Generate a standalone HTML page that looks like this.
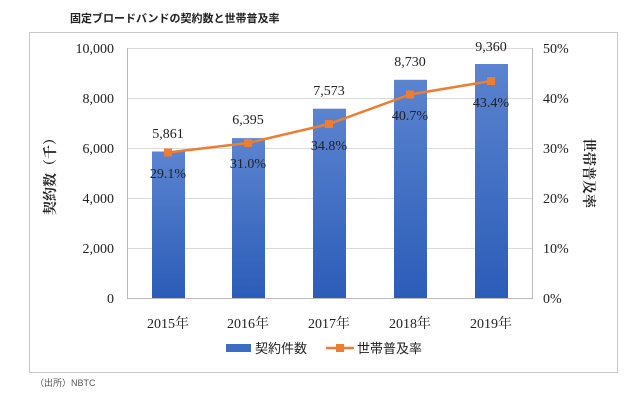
<!DOCTYPE html>
<html><head><meta charset="utf-8"><style>
body{margin:0;background:#fff;width:640px;height:403px;overflow:hidden}
</style></head><body>
<svg width="640" height="403" xmlns="http://www.w3.org/2000/svg" font-family="'Liberation Serif','Noto Serif CJK SC',serif">
<defs><linearGradient id="g" x1="0" y1="0" x2="0" y2="1"><stop offset="0" stop-color="#5b84d0"/><stop offset="1" stop-color="#2b5cb8"/></linearGradient></defs>
<text x="70" y="22" font-size="11" font-weight="bold" font-family="'Liberation Sans','Noto Sans CJK JP',sans-serif" fill="#222">固定ブロードバンドの契約数と世帯普及率</text>
<rect x="29.5" y="32.5" width="588" height="340" fill="#fff" stroke="#c8c8c8"/>
<g stroke="#d9d9d9" stroke-width="1">
<line x1="127" x2="533" y1="48.5" y2="48.5"/><line x1="127" x2="533" y1="98.5" y2="98.5"/><line x1="127" x2="533" y1="148.5" y2="148.5"/><line x1="127" x2="533" y1="198.5" y2="198.5"/><line x1="127" x2="533" y1="248.5" y2="248.5"/>
</g>
<line x1="127.5" x2="127.5" y1="48" y2="298" stroke="#bbb"/>
<line x1="532.5" x2="532.5" y1="48" y2="298" stroke="#bbb"/>
<line x1="127" x2="533" y1="298.5" y2="298.5" stroke="#bbb"/>
<g fill="url(#g)">
<rect x="152" y="151.5" width="33" height="146.5"/>
<rect x="232" y="138.1" width="33" height="159.9"/>
<rect x="313" y="108.7" width="33" height="189.3"/>
<rect x="394" y="79.8" width="33" height="218.2"/>
<rect x="475" y="64" width="33" height="234"/>
</g>
<g font-size="14" fill="#222" text-anchor="end">
<text x="114" y="53">10,000</text><text x="114" y="103">8,000</text><text x="114" y="153">6,000</text><text x="114" y="203">4,000</text><text x="114" y="253">2,000</text><text x="114" y="303">0</text>
</g>
<g font-size="14" fill="#222">
<text x="543" y="53">50%</text><text x="543" y="103">40%</text><text x="543" y="153">30%</text><text x="543" y="203">20%</text><text x="543" y="253">10%</text><text x="543" y="303">0%</text>
</g>
<g font-size="14" fill="#222" text-anchor="middle">
<text x="168" y="328">2015年</text><text x="248" y="328">2016年</text><text x="329" y="328">2017年</text><text x="410" y="328">2018年</text><text x="491" y="328">2019年</text>
<text x="168" y="138">5,861</text><text x="248" y="124">6,395</text><text x="329" y="95">7,573</text><text x="410" y="66">8,730</text><text x="491" y="51">9,360</text>
<text x="168" y="178">29.1%</text><text x="248" y="168">31.0%</text><text x="329" y="150">34.8%</text><text x="410" y="120">40.7%</text><text x="491" y="107">43.4%</text>
</g>
<polyline points="168,152.5 248,143 329,124 410,94.5 491,81" fill="none" stroke="#ed7d31" stroke-width="2.5"/>
<g fill="#ed7d31">
<rect x="164" y="148.5" width="8" height="8"/><rect x="244" y="139" width="8" height="8"/><rect x="325" y="120" width="8" height="8"/><rect x="406" y="90.5" width="8" height="8"/><rect x="487" y="77" width="8" height="8"/>
</g>
<text transform="translate(55,173) rotate(-90)" font-size="14" font-weight="bold" text-anchor="middle" fill="#222">契約数（千）</text>
<text transform="translate(584,173) rotate(90)" font-size="14" font-weight="bold" text-anchor="middle" fill="#222">世帯普及率</text>
<rect x="226" y="344" width="25" height="8" fill="#3d6cc4"/>
<line x1="326" x2="354" y1="348" y2="348" stroke="#ed7d31" stroke-width="2.5"/>
<rect x="336" y="344" width="8" height="8" fill="#ed7d31"/>
<g font-size="13" fill="#222" font-family="'Liberation Sans','Noto Sans CJK JP',sans-serif">
<text x="255" y="353">契約件数</text><text x="357" y="353">世帯普及率</text>
</g>
<text x="35" y="386" font-size="9" fill="#555" font-family="'Liberation Sans','Noto Sans CJK JP',sans-serif">（出所）NBTC</text>
</svg>
</body></html>
